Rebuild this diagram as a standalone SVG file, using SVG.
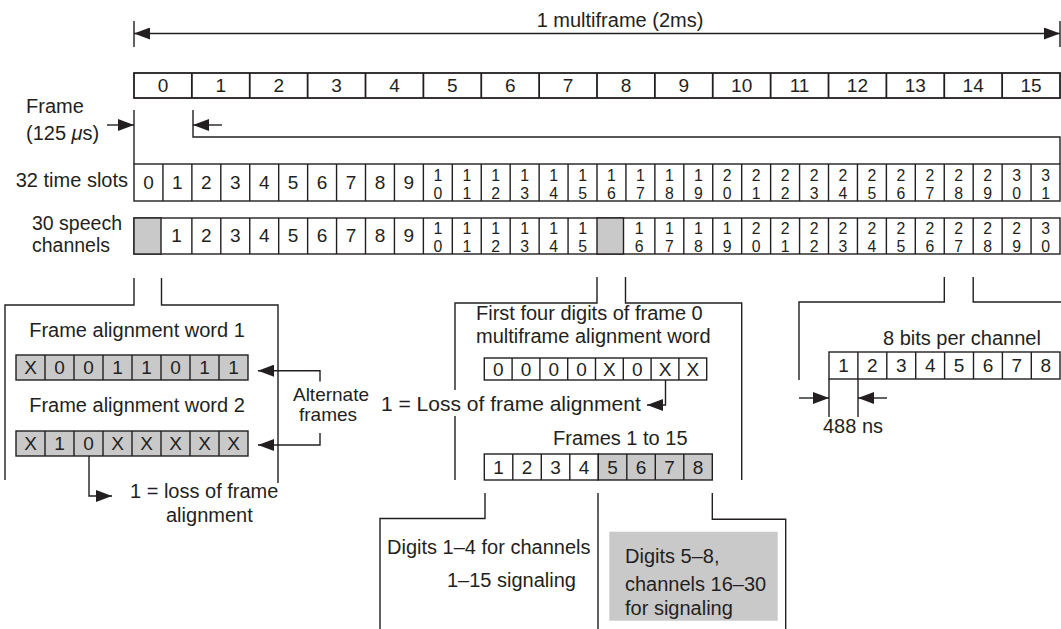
<svg xmlns="http://www.w3.org/2000/svg" width="1061" height="629" viewBox="0 0 1061 629">
<style>
text{font-family:"Liberation Sans",Arial,sans-serif;font-size:20px;fill:#231f20}
.d{text-anchor:middle;font-size:19px}
.s{text-anchor:middle;font-size:15.8px}
.m{text-anchor:middle}
.c{fill:#fff;stroke:#231f20;stroke-width:1.4}
.g{fill:#c9c9ca;stroke:#231f20;stroke-width:1.4}
.fr{fill:#fff;stroke:#231f20;stroke-width:1.8}
.ln{fill:none;stroke:#231f20;stroke-width:1.4}
.lt{fill:none;stroke:#231f20;stroke-width:1.4;marker-end:url(#ah)}
.lb{fill:none;stroke:#231f20;stroke-width:1.4;marker-start:url(#ah);marker-end:url(#ah)}
</style>
<defs>
<marker id="ah" viewBox="0 0 16 12" refX="16" refY="6" markerWidth="16" markerHeight="12" orient="auto-start-reverse" markerUnits="userSpaceOnUse"><path d="M0,0 L16,6 L0,12 z" fill="#231f20"/></marker>
</defs>
<rect width="1061" height="629" fill="#fff"/>

<g id="multiframe-label">
<text x="620" y="27" class="m">1 multiframe (2ms)</text>
</g>

<g id="frames-row">
<rect class="fr" x="134" y="73" width="926" height="25"/>
<path class="ln" style="stroke-width:1.8" d="M191.875,73V98M249.75,73V98M307.625,73V98M365.5,73V98M423.375,73V98M481.25,73V98M539.125,73V98M597,73V98M654.875,73V98M712.75,73V98M770.625,73V98M828.5,73V98M886.375,73V98M944.25,73V98M1002.125,73V98"/>
<text class="d" y="92"><tspan x="162.94">0</tspan><tspan x="220.81">1</tspan><tspan x="278.69">2</tspan><tspan x="336.56">3</tspan><tspan x="394.44">4</tspan><tspan x="452.31">5</tspan><tspan x="510.19">6</tspan><tspan x="568.06">7</tspan><tspan x="625.94">8</tspan><tspan x="683.81">9</tspan><tspan x="741.69">10</tspan><tspan x="799.56">11</tspan><tspan x="857.44">12</tspan><tspan x="915.31">13</tspan><tspan x="973.19">14</tspan><tspan x="1031.06">15</tspan></text>
</g>

<g id="frame-label">
<text x="26" y="113">Frame</text>
<text x="26" y="140">(125 <tspan font-style="italic">μ</tspan>s)</text>
</g>

<g id="timeslots-row">
<text x="128" y="187" style="text-anchor:end">32 time slots</text>
<rect class="c" x="134" y="164" width="926" height="37"/>
<path class="ln" d="M162.94,164V201M191.88,164V201M220.81,164V201M249.75,164V201M278.69,164V201M307.63,164V201M336.56,164V201M365.5,164V201M394.44,164V201M423.38,164V201M452.31,164V201M481.25,164V201M510.19,164V201M539.13,164V201M568.06,164V201M597,164V201M625.94,164V201M654.88,164V201M683.81,164V201M712.75,164V201M741.69,164V201M770.63,164V201M799.56,164V201M828.5,164V201M857.44,164V201M886.38,164V201M915.31,164V201M944.25,164V201M973.19,164V201M1002.13,164V201M1031.06,164V201"/>
<text class="d" y="189"><tspan x="148.47">0</tspan><tspan x="177.41">1</tspan><tspan x="206.34">2</tspan><tspan x="235.28">3</tspan><tspan x="264.22">4</tspan><tspan x="293.16">5</tspan><tspan x="322.09">6</tspan><tspan x="351.03">7</tspan><tspan x="379.97">8</tspan><tspan x="408.91">9</tspan></text>
<text class="s" x="437.84" y="181">1<tspan x="437.84" dy="18">0</tspan></text>
<text class="s" x="466.78" y="181">1<tspan x="466.78" dy="18">1</tspan></text>
<text class="s" x="495.72" y="181">1<tspan x="495.72" dy="18">2</tspan></text>
<text class="s" x="524.66" y="181">1<tspan x="524.66" dy="18">3</tspan></text>
<text class="s" x="553.59" y="181">1<tspan x="553.59" dy="18">4</tspan></text>
<text class="s" x="582.53" y="181">1<tspan x="582.53" dy="18">5</tspan></text>
<text class="s" x="611.47" y="181">1<tspan x="611.47" dy="18">6</tspan></text>
<text class="s" x="640.41" y="181">1<tspan x="640.41" dy="18">7</tspan></text>
<text class="s" x="669.34" y="181">1<tspan x="669.34" dy="18">8</tspan></text>
<text class="s" x="698.28" y="181">1<tspan x="698.28" dy="18">9</tspan></text>
<text class="s" x="727.22" y="181">2<tspan x="727.22" dy="18">0</tspan></text>
<text class="s" x="756.16" y="181">2<tspan x="756.16" dy="18">1</tspan></text>
<text class="s" x="785.09" y="181">2<tspan x="785.09" dy="18">2</tspan></text>
<text class="s" x="814.03" y="181">2<tspan x="814.03" dy="18">3</tspan></text>
<text class="s" x="842.97" y="181">2<tspan x="842.97" dy="18">4</tspan></text>
<text class="s" x="871.91" y="181">2<tspan x="871.91" dy="18">5</tspan></text>
<text class="s" x="900.84" y="181">2<tspan x="900.84" dy="18">6</tspan></text>
<text class="s" x="929.78" y="181">2<tspan x="929.78" dy="18">7</tspan></text>
<text class="s" x="958.72" y="181">2<tspan x="958.72" dy="18">8</tspan></text>
<text class="s" x="987.66" y="181">2<tspan x="987.66" dy="18">9</tspan></text>
<text class="s" x="1016.59" y="181">3<tspan x="1016.59" dy="18">0</tspan></text>
<text class="s" x="1045.53" y="181">3<tspan x="1045.53" dy="18">1</tspan></text>
</g>

<g id="speech-row">
<text x="77" y="229.5" class="m" style="font-size:19.5px">30 speech</text>
<text x="71" y="251.5" class="m" style="font-size:19.5px">channels</text>
<rect class="c" x="134" y="218" width="926" height="36"/>
<rect class="g" x="134" y="218" width="27" height="36"/>
<rect class="g" x="597" y="218" width="26.5" height="36"/>
<path class="ln" d="M191.88,218V254M220.81,218V254M249.75,218V254M278.69,218V254M307.63,218V254M336.56,218V254M365.5,218V254M394.44,218V254M423.38,218V254M452.31,218V254M481.25,218V254M510.19,218V254M539.13,218V254M568.06,218V254M654.88,218V254M683.81,218V254M712.75,218V254M741.69,218V254M770.63,218V254M799.56,218V254M828.5,218V254M857.44,218V254M886.38,218V254M915.31,218V254M944.25,218V254M973.19,218V254M1002.13,218V254M1031.06,218V254"/>
<text class="d" y="242"><tspan x="176.5">1</tspan><tspan x="206.34">2</tspan><tspan x="235.28">3</tspan><tspan x="264.22">4</tspan><tspan x="293.16">5</tspan><tspan x="322.09">6</tspan><tspan x="351.03">7</tspan><tspan x="379.97">8</tspan><tspan x="408.91">9</tspan></text>
<text class="s" x="437.84" y="233.5">1<tspan x="437.84" dy="18">0</tspan></text>
<text class="s" x="466.78" y="233.5">1<tspan x="466.78" dy="18">1</tspan></text>
<text class="s" x="495.72" y="233.5">1<tspan x="495.72" dy="18">2</tspan></text>
<text class="s" x="524.66" y="233.5">1<tspan x="524.66" dy="18">3</tspan></text>
<text class="s" x="553.59" y="233.5">1<tspan x="553.59" dy="18">4</tspan></text>
<text class="s" x="582.53" y="233.5">1<tspan x="582.53" dy="18">5</tspan></text>
<text class="s" x="639.2" y="233.5">1<tspan x="639.2" dy="18">6</tspan></text>
<text class="s" x="669.34" y="233.5">1<tspan x="669.34" dy="18">7</tspan></text>
<text class="s" x="698.28" y="233.5">1<tspan x="698.28" dy="18">8</tspan></text>
<text class="s" x="727.22" y="233.5">1<tspan x="727.22" dy="18">9</tspan></text>
<text class="s" x="756.16" y="233.5">2<tspan x="756.16" dy="18">0</tspan></text>
<text class="s" x="785.09" y="233.5">2<tspan x="785.09" dy="18">1</tspan></text>
<text class="s" x="814.03" y="233.5">2<tspan x="814.03" dy="18">2</tspan></text>
<text class="s" x="842.97" y="233.5">2<tspan x="842.97" dy="18">3</tspan></text>
<text class="s" x="871.91" y="233.5">2<tspan x="871.91" dy="18">4</tspan></text>
<text class="s" x="900.84" y="233.5">2<tspan x="900.84" dy="18">5</tspan></text>
<text class="s" x="929.78" y="233.5">2<tspan x="929.78" dy="18">6</tspan></text>
<text class="s" x="958.72" y="233.5">2<tspan x="958.72" dy="18">7</tspan></text>
<text class="s" x="987.66" y="233.5">2<tspan x="987.66" dy="18">8</tspan></text>
<text class="s" x="1016.59" y="233.5">2<tspan x="1016.59" dy="18">9</tspan></text>
<text class="s" x="1045.53" y="233.5">3<tspan x="1045.53" dy="18">0</tspan></text>
</g>

<g id="faw1">
<text x="137" y="337" class="m">Frame alignment word 1</text>
<rect class="g" x="16" y="355" width="232" height="25"/>
<path class="ln" d="M45,355V380M74,355V380M103,355V380M132,355V380M161,355V380M190,355V380M219,355V380"/>
<text class="d" y="374"><tspan x="30.5">X</tspan><tspan x="59.5">0</tspan><tspan x="88.5">0</tspan><tspan x="117.5">1</tspan><tspan x="146.5">1</tspan><tspan x="175.5">0</tspan><tspan x="204.5">1</tspan><tspan x="233.5">1</tspan></text>
</g>

<g id="faw2">
<text x="137" y="412" class="m">Frame alignment word 2</text>
<rect class="g" x="16" y="431" width="232" height="25"/>
<path class="ln" d="M45,431V456M74,431V456M103,431V456M132,431V456M161,431V456M190,431V456M219,431V456"/>
<text class="d" y="450"><tspan x="30.5">X</tspan><tspan x="59.5">1</tspan><tspan x="88.5">0</tspan><tspan x="117.5">X</tspan><tspan x="146.5">X</tspan><tspan x="175.5">X</tspan><tspan x="204.5">X</tspan><tspan x="233.5">X</tspan></text>
</g>

<g id="alternate-label">
<text x="331" y="401" class="m" style="font-size:19px">Alternate</text>
<text x="328" y="421" class="m" style="font-size:19px">frames</text>
</g>

<g id="faw-loss-label">
<text x="130" y="498">1 = loss of frame</text>
<text x="166" y="522">alignment</text>
</g>

<g id="mfaw">
<text x="476" y="320">First four digits of frame 0</text>
<text x="476" y="343">multiframe alignment word</text>
<rect class="c" x="484.3" y="358" width="222.4" height="22"/>
<path class="ln" d="M512.1,358V380M539.9,358V380M567.7,358V380M595.5,358V380M623.3,358V380M651.1,358V380M678.9,358V380"/>
<text class="d" y="376"><tspan x="498.2">0</tspan><tspan x="526">0</tspan><tspan x="553.8">0</tspan><tspan x="581.6">0</tspan><tspan x="609.4">X</tspan><tspan x="637.2">0</tspan><tspan x="665">X</tspan><tspan x="692.8">X</tspan></text>
</g>

<g id="mf-loss-label">
<text x="381" y="411" style="font-size:21px">1 = Loss of frame alignment</text>
</g>

<g id="signaling-word">
<text x="553" y="445">Frames 1 to 15</text>
<rect class="c" x="484.3" y="454" width="114" height="26"/>
<rect class="g" x="598.3" y="454" width="114" height="26"/>
<path class="ln" d="M512.8,454V480M541.3,454V480M569.8,454V480M626.8,454V480M655.3,454V480M683.8,454V480"/>
<text class="d" y="474"><tspan x="498.55">1</tspan><tspan x="527.05">2</tspan><tspan x="555.55">3</tspan><tspan x="584.05">4</tspan><tspan x="612.55">5</tspan><tspan x="641.05">6</tspan><tspan x="669.55">7</tspan><tspan x="698.05">8</tspan></text>
</g>

<g id="digits-1-4">
<text x="387" y="554">Digits 1–4 for channels</text>
<text x="447" y="587">1–15 signaling</text>
</g>

<g id="digits-5-8">
<rect x="609.3" y="531.7" width="168.4" height="89" fill="#c9c9ca"/>
<text x="625" y="563">Digits 5–8,</text>
<text x="625" y="591">channels 16–30</text>
<text x="625" y="615">for signaling</text>
</g>

<g id="bits">
<text x="883" y="345">8 bits per channel</text>
<rect class="c" x="829" y="352" width="231" height="27"/>
<path class="ln" d="M857.9,352V379M886.8,352V379M915.7,352V379M944.6,352V379M973.5,352V379M1002.4,352V379M1031.3,352V379"/>
<text class="d" y="372"><tspan x="843.5">1</tspan><tspan x="872.4">2</tspan><tspan x="901.3">3</tspan><tspan x="930.2">4</tspan><tspan x="959.1">5</tspan><tspan x="988">6</tspan><tspan x="1016.9">7</tspan><tspan x="1045.7">8</tspan></text>
<text x="823" y="433">488 ns</text>
</g>

<g id="connectors">
<path class="ln" d="M134,21V47M1060,21V47"/>
<path class="lb" d="M134,33.5H1060"/>
<path class="lt" d="M107,125H134"/>
<path class="ln" d="M134,110V164"/>
<path class="ln" d="M193,110V137H1060V164"/>
<path class="lt" d="M222,125H193"/>
<path class="ln" d="M134,278V305H5V480M161.5,278V305H278V483"/>
<path class="lt" d="M320,381.5V370.7H258"/>
<path class="lt" d="M320,433V445H258"/>
<path class="lt" d="M89,456V496H112"/>
<path class="ln" d="M597,277V303H455V390M455,416V480"/>
<path class="ln" d="M625.5,277V303H741.7V480"/>
<path class="lt" d="M665.5,380V405H647"/>
<path class="ln" d="M485,493V518.5H380V629M598,493V629M712.3,493V519.3H785.7V629"/>
<path class="ln" d="M944.3,277V302H799V380M973.2,277V302H1061"/>
<path class="ln" d="M829,379V417M858,379V417"/>
<path class="lt" d="M799,398H829"/>
<path class="lt" d="M887,398H858"/>
</g>
</svg>
